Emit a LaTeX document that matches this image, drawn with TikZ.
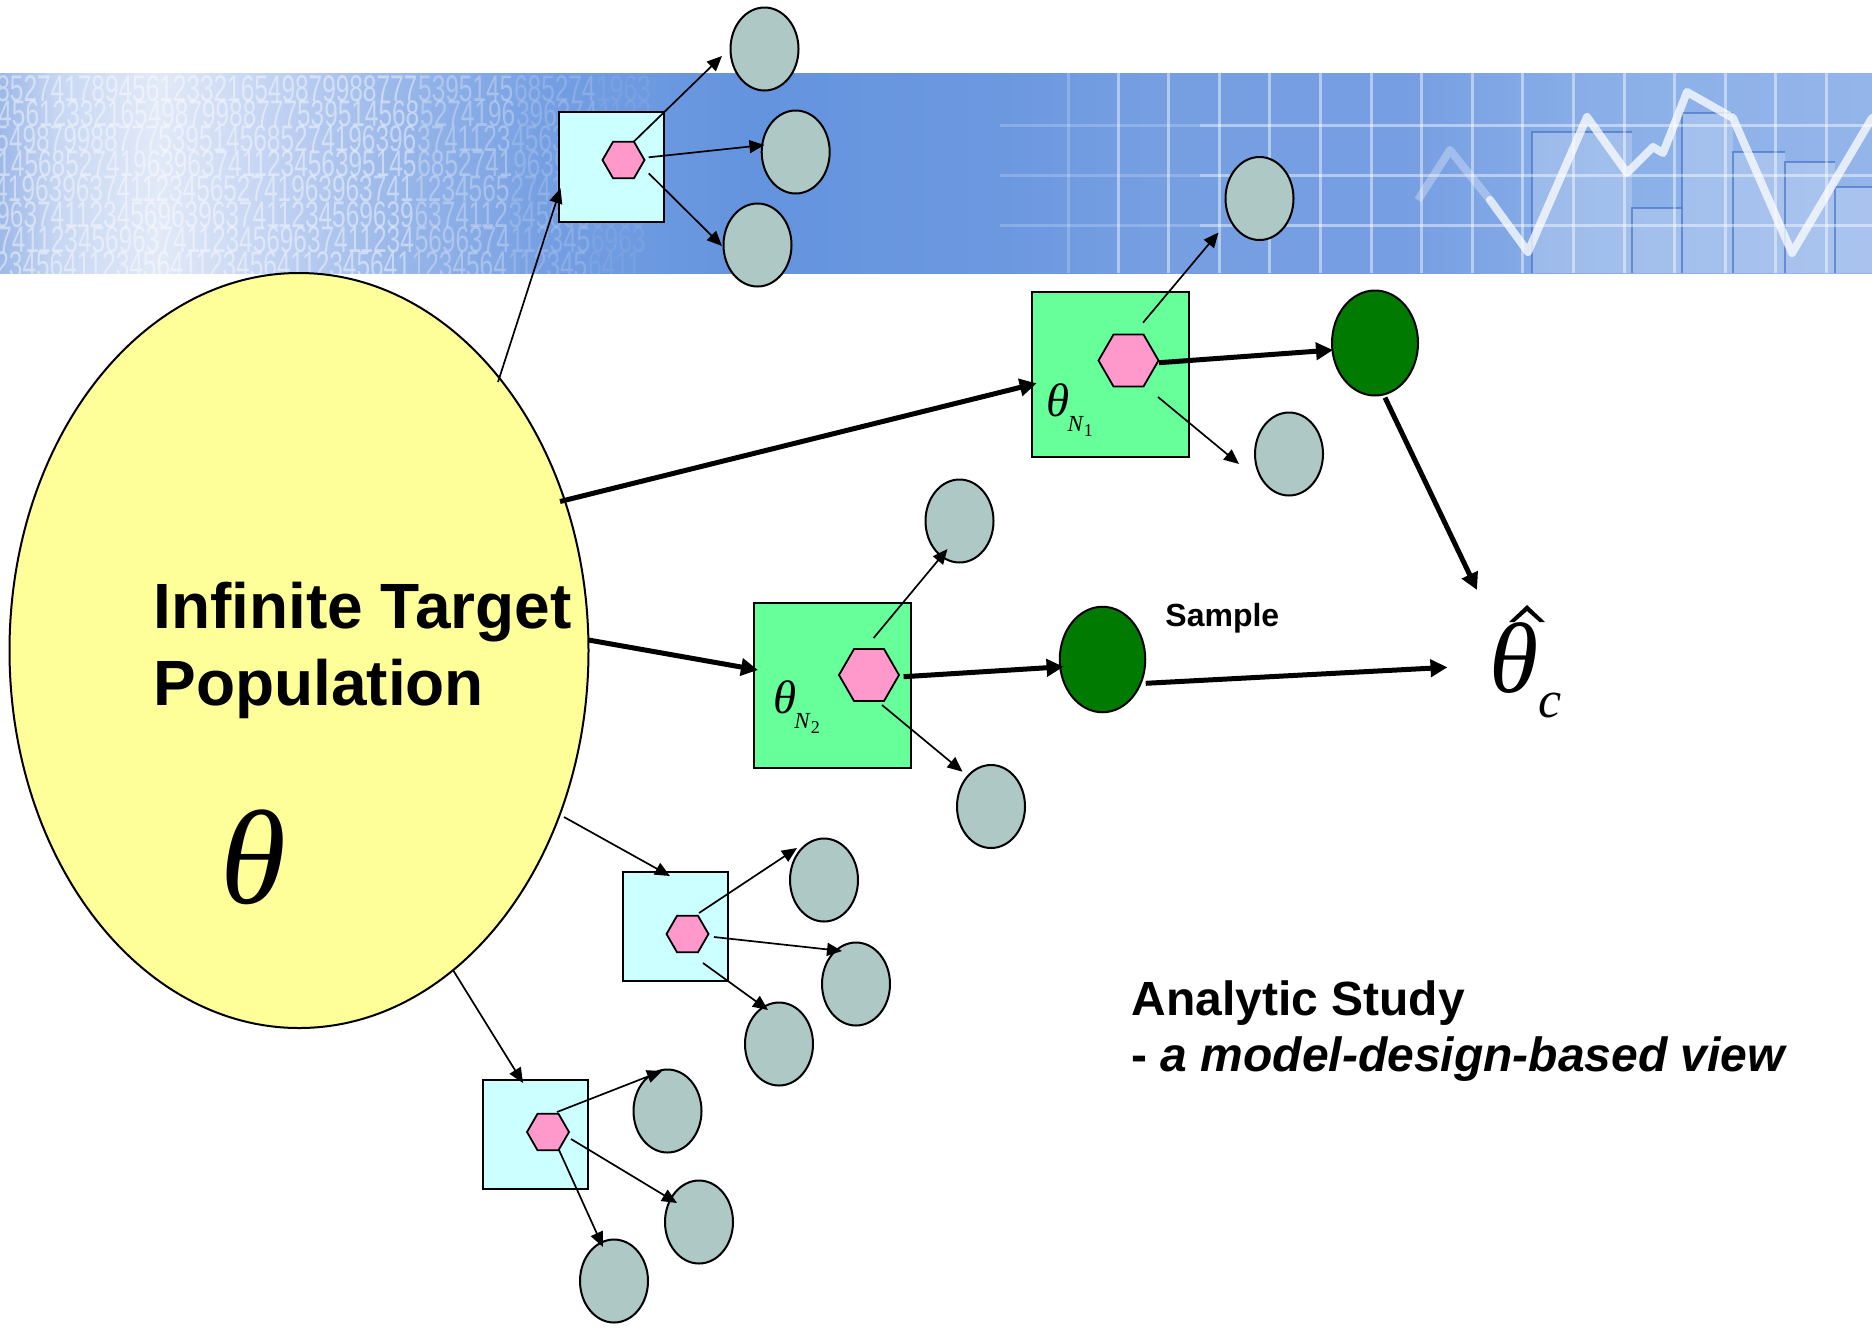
\documentclass[tikz,border=0pt]{standalone}
\usepackage{fontspec}
\setmainfont{Liberation Sans}
\newfontfamily\tnr{Liberation Serif}
\newfontfamily\digitfont[FakeStretch=0.66]{Liberation Sans}
\usetikzlibrary{shapes.geometric,arrows.meta}

\definecolor{popyellow}{RGB}{255,255,153}
\definecolor{boxcyan}{RGB}{204,255,255}
\definecolor{boxgreen}{RGB}{102,255,153}
\definecolor{hexpink}{RGB}{255,153,204}
\definecolor{unitgray}{RGB}{174,200,198}
\definecolor{samplegreen}{RGB}{0,122,0}
\definecolor{baredge}{RGB}{70,118,200}
\definecolor{bn0}{RGB}{158,184,232}
\definecolor{bn1}{RGB}{200,215,243}
\definecolor{bn2}{RGB}{226,234,248}
\definecolor{bn3}{RGB}{198,213,243}
\definecolor{bn4}{RGB}{152,182,233}
\definecolor{bn5}{RGB}{116,158,226}
\definecolor{bn6}{RGB}{100,148,222}
\definecolor{bn7}{RGB}{108,152,224}
\definecolor{bn8}{RGB}{118,159,226}
\definecolor{bn9}{RGB}{118,158,226}
\definecolor{bn10}{RGB}{138,175,232}
\definecolor{bn11}{RGB}{148,181,234}

% the inner 25bp..75bp of the shading covers the filled rectangle
\pgfdeclarehorizontalshading{bannershade}{100bp}{color(0bp)=(bn0); color(25bp)=(bn0); color(26.6bp)=(bn1); color(29.25bp)=(bn2); color(31.95bp)=(bn3); color(35.7bp)=(bn4); color(39.7bp)=(bn5); color(45bp)=(bn6); color(51.7bp)=(bn7); color(55.7bp)=(bn8); color(62.4bp)=(bn9); color(67.75bp)=(bn10); color(75bp)=(bn11); color(100bp)=(bn11)}

% subscripted parameter label: theta with N_k
\newcommand{\thetaN}[1]{{\tnr\itshape\fontsize{23.5}{23.5}\selectfont θ}\kern-1pt\raisebox{-7.8pt}{\tnr\itshape\fontsize{11.5}{11.5}\selectfont N\kern0.5pt\raisebox{-2.5pt}{\upshape\fontsize{9}{9}\selectfont #1}}}

% one row of faint digits, fading out to the right in four steps
\newcommand{\digitrow}[7]{%
  \node[digits, opacity=0.45] (#1a) at (#2,#3) {#4};
  \node[digits, opacity=0.3] (#1b) at (#1a.base east) {#5};
  \node[digits, opacity=0.18] (#1c) at (#1b.base east) {#6};
  \node[digits, opacity=0.08] (#1d) at (#1c.base east) {#7};}

\begin{document}
\begin{tikzpicture}[x=0.5pt,y=-0.5pt,
  pop/.style={ellipse, draw, line width=1pt, fill=popyellow, minimum width=289.5pt, minimum height=377.5pt, inner sep=0},
  unit/.style={ellipse, draw, line width=1pt, fill=unitgray, minimum width=34pt, minimum height=41.5pt, inner sep=0},
  chosen/.style={ellipse, draw, line width=1pt, fill=samplegreen, minimum width=42.75pt, minimum height=52.75pt, inner sep=0},
  psu/.style={rectangle, draw, line width=1pt, fill=boxcyan, minimum width=52.5pt, minimum height=54.5pt, inner sep=0},
  bigpsu/.style={rectangle, draw, line width=1pt, fill=boxgreen, minimum width=78.5pt, minimum height=82.5pt, inner sep=0},
  hex/.style={regular polygon, regular polygon sides=6, draw, line width=0.9pt, fill=hexpink, minimum size=21pt, inner sep=0},
  bighex/.style={hex, minimum size=30pt},
  thinarrow/.style={line width=0.85pt, -{Triangle[length=7.5pt,width=6.5pt]}},
  thickarrow/.style={line width=2.5pt, -{Triangle[length=8.5pt,width=8.5pt]}},
  digits/.style={anchor=base west, inner sep=0, text=white, font=\digitfont\fontsize{18.5}{18.5}\selectfont},
  gridline/.style={white, line width=1.5pt},
  bar/.style={fill=white, fill opacity=0.2},
  baredgeline/.style={baredge, line width=1pt, opacity=0.7},
  plain/.style={inner sep=0}]

\useasboundingbox (0,0) rectangle (1872,1328);
\fill[white] (0,0) rectangle (1872,1328);

% ---- banner ----
\begin{scope}
  \clip (0,73) rectangle (1872,273);
  \shade[shading=bannershade] (0,73) rectangle (1872,273);
  % digits
  \digitrow{ra}{-4}{101}{8527417894561233216549879988777}{5395145}{685274}{1963}
  \digitrow{rb}{-2}{126}{4561233216549879988777539514568}{5274196}{396374}{1123}
  \digitrow{rc}{-5}{151}{5498799887775395145685274196396}{3741123}{456395}{1456}
  \digitrow{rd}{-3}{176}{1456852741963963741123456395145}{6852741}{963963}{7411}
  \digitrow{re}{-6}{201}{4196396374112345652741963963741}{1234565}{274196}{3963}
  \digitrow{rf}{-4}{227}{9637411234569639637411234569639}{6374112}{345696}{3963}
  \digitrow{rg}{-2}{252}{7411234569637411234569637411234}{5696374}{112345}{6963}
  \digitrow{rh}{-5}{277}{2345641123456411234564112345641}{1234564}{112345}{6411}
  % chart bars
  \foreach \xa/\xb/\top in {1532/1632/132, 1632/1682/208, 1682/1733/113, 1733/1785/152, 1785/1835/162, 1835/1872/187} {
    \fill[bar] (\xa,\top) rectangle (\xb,273);
    \draw[baredgeline] (\xa,273) -- (\xa,\top) -- (\xb,\top);
  }
  % grid
  \draw[gridline, opacity=0.2] (1068,73) -- (1068,273);
  \foreach \k in {0,...,14} {
    \draw[gridline, opacity=0.45] ({1118+50.6*\k},73) -- ({1118+50.6*\k},273);
  }
  \foreach \gy in {125,175,225} {
    \draw[gridline, opacity=0.2] (1000,\gy) -- (1200,\gy);
    \draw[gridline, opacity=0.45] (1200,\gy) -- (1872,\gy);
  }
  % chart line
  \draw[white, line width=4pt, opacity=0.3, line join=round] (1418,200) -- (1450,150) -- (1490,200);
  \draw[white, line width=4pt, opacity=0.75, line join=round, line cap=round]
    (1490,200) -- (1528,252) -- (1587,117) -- (1627,173) -- (1653,147) -- (1663,153)
    -- (1687,92) -- (1733,118) -- (1792,253) -- (1872,118);
\end{scope}

% ---- population ----
\node[pop] (pop) at (299,650.5) {};
\node[plain, anchor=base west, align=left, font=\bfseries\fontsize{32}{38.35}\selectfont] (poptext) at (153,705) {Infinite Target\\Population};
\node[plain, font=\tnr\itshape\fontsize{67}{67}\selectfont] (theta) at (253,857.5) {θ};

% ---- sampled units with their samples ----
\node[psu, minimum height=55pt] (boxA) at (611.5,167) {};
\node[hex] (hexA) at (623.5,160) {};
\node[unit] (a1) at (764.5,49) {};
\node[unit] (a2) at (795.7,152) {};
\node[unit] (a3) at (757.5,245) {};

\node[bigpsu] (boxN1) at (1110.5,374.5) {};
\node[bighex] (hexN1) at (1128.5,360.5) {};
\node[plain, anchor=base west] (labN1) at (1046,416) {\thetaN{1}};
\node[unit] (n1up) at (1259.5,198.5) {};
\node[unit] (n1dn) at (1289,454) {};
\node[chosen, minimum width=43pt, minimum height=52.5pt] (g1) at (1375,343) {};

\node[bigpsu] (boxN2) at (832.3,685) {};
\node[bighex] (hexN2) at (869,675) {};
\node[plain, anchor=base west] (labN2) at (773,713) {\thetaN{2}};
\node[unit] (n2up) at (959.5,521) {};
\node[unit] (n2dn) at (991,806.5) {};
\node[chosen] (g2) at (1102.5,659.5) {};

\node[psu] (boxC) at (675,926.5) {};
\node[hex] (hexC) at (687.5,934) {};
\node[unit] (c1) at (824,880) {};
\node[unit] (c2) at (856,984) {};
\node[unit] (c3) at (779,1044) {};

\node[psu] (boxD) at (535.5,1134.5) {};
\node[hex] (hexD) at (548,1132) {};
\node[unit] (d1) at (667.5,1111) {};
\node[unit] (d2) at (699,1222) {};
\node[unit] (d3) at (614,1281) {};

% ---- combined estimator ----
\node[plain, anchor=base west] (thetac) at (1489,692) {{\tnr\itshape\fontsize{50}{50}\selectfont θ}\raisebox{-12.5pt}{\tnr\itshape\fontsize{26}{26}\selectfont c}};
\fill ([shift={(20,-70)}]thetac.base west) -- ([shift={(38,-87)}]thetac.base west)
  -- ([shift={(56,-70)}]thetac.base west) -- ([shift={(50.5,-70)}]thetac.base west)
  -- ([shift={(38,-81)}]thetac.base west) -- ([shift={(25.5,-70)}]thetac.base west) -- cycle;

\node[plain, anchor=base west, font=\bfseries\fontsize{16}{16}\selectfont] (samplelbl) at (1165,626.5) {Sample};
\node[plain, anchor=base west, align=left, font=\bfseries\fontsize{24}{28}\selectfont] (study) at (1131,1071) {Analytic Study\\- \textit{a model-design-based view}};

% ---- connectors ----
\draw[thinarrow] ([shift={(199,-268.5)}]pop.center) -- ([shift={(-51,21.3)}]boxA.center);
\draw[thinarrow] ([shift={(10.2,-18.3)}]hexA.center) -- ([shift={(-42.5,7)}]a1.center);
\draw[thinarrow] ([shift={(25.2,-2.7)}]hexA.center) -- ([shift={(-31.3,-7)}]a2.center);
\draw[thinarrow] ([shift={(25.2,13.3)}]hexA.center) -- ([shift={(-35.5,1)}]a3.center);

\draw[thickarrow] ([shift={(261,-149)}]pop.center) -- ([shift={(-73.8,8.8)}]boxN1.center);
\draw[thinarrow] ([shift={(14.5,-37.8)}]hexN1.center) -- ([shift={(-41,34)}]n1up.center);
\draw[thickarrow] ([shift={(30.5,2.2)}]hexN1.center) -- ([shift={(-42,7)}]g1.center);
\draw[thinarrow] ([shift={(29.5,36.5)}]hexN1.center) -- ([shift={(-50,10)}]n1dn.center);
\draw[thickarrow] ([shift={(10,54.6)}]g1.center) -- ([shift={(-12,-102)}]thetac.base west);

\draw[thickarrow] ([shift={(289.6,-10.5)}]pop.center) -- ([shift={(-74.3,-15)}]boxN2.center);
\draw[thinarrow] ([shift={(4.6,-37)}]hexN2.center) -- ([shift={(-12,28)}]n2up.center);
\draw[thinarrow] ([shift={(13,30)}]hexN2.center) -- ([shift={(-28.5,-34.8)}]n2dn.center);
\draw[thickarrow] ([shift={(34.6,1.7)}]hexN2.center) -- ([shift={(-38.9,7.2)}]g2.center);
\draw[thickarrow] ([shift={(43.2,23.8)}]g2.center) -- ([shift={(-41.5,-24.7)}]thetac.base west);

\draw[thinarrow] ([shift={(265,166.5)}]pop.center) -- ([shift={(-5,-50.5)}]boxC.center);
\draw[thinarrow] ([shift={(11.5,-21)}]hexC.center) -- ([shift={(-27,-32)}]c1.center);
\draw[thinarrow] ([shift={(26.5,3)}]hexC.center) -- ([shift={(-14,-33)}]c2.center);
\draw[thinarrow] ([shift={(15.5,29)}]hexC.center) -- ([shift={(-11,-34)}]c3.center);

\draw[thinarrow] ([shift={(154,319.5)}]pop.center) -- ([shift={(-12.5,-51.5)}]boxD.center);
\draw[thinarrow] ([shift={(9,-20)}]hexD.center) -- ([shift={(-5.5,-40)}]d1.center);
\draw[thinarrow] ([shift={(23,7)}]hexD.center) -- ([shift={(-22,-19)}]d2.center);
\draw[thinarrow] ([shift={(11,18)}]hexD.center) -- ([shift={(-11,-34)}]d3.center);
\end{tikzpicture}
\end{document}
